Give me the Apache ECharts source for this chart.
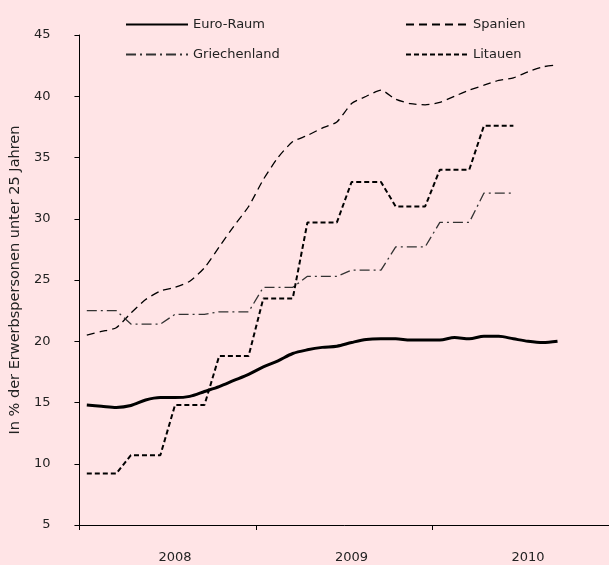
<!DOCTYPE html>
<html>
<head>
<meta charset="utf-8">
<script src="https://cdn.jsdelivr.net/npm/echarts@6/dist/echarts.min.js"></script>
<style>
  html, body { margin: 0; padding: 0; background: #ffe4e6; }
  #chart { width: 609px; height: 565px; }
</style>
</head>
<body>
<div id="chart"></div>
<script>
// Monate Jan 2008 - Dez 2010
const months = [
  "2008-01", "2008-02", "2008-03", "2008-04", "2008-05", "2008-06",
  "2008-07", "2008-08", "2008-09", "2008-10", "2008-11", "2008-12",
  "2009-01", "2009-02", "2009-03", "2009-04", "2009-05", "2009-06",
  "2009-07", "2009-08", "2009-09", "2009-10", "2009-11", "2009-12",
  "2010-01", "2010-02", "2010-03", "2010-04", "2010-05", "2010-06",
  "2010-07", "2010-08", "2010-09", "2010-10", "2010-11", "2010-12",
];
const yearLabels = ["2008", "2009", "2010"];

// Jugendarbeitslosenquote in %
const euroRaum = [
  14.8, 14.7, 14.6, 14.75, 15.2, 15.4, 15.4, 15.5, 15.9, 16.3, 16.8, 17.3,
  17.9, 18.4, 19.0, 19.3, 19.5, 19.6, 19.9, 20.15, 20.2, 20.2, 20.1, 20.1,
  20.1, 20.3, 20.2, 20.4, 20.4, 20.2, 20.0, 19.9, 20.0, null, null, null,
];
const spanien = [
  20.5, 20.8, 21.1, 22.3, 23.4, 24.1, 24.4, 24.9, 26.0, 27.7, 29.4, 31.0,
  33.2, 35.0, 36.3, 36.8, 37.4, 37.9, 39.4, 40.0, 40.5, 39.75, 39.4, 39.3,
  39.5, 40.0, 40.5, 40.9, 41.3, 41.5, 42.0, 42.4, 42.55, null, null, null,
];
const griechenland = [
  22.5, 22.5, 22.5, 21.4, 21.4, 21.4, 22.2, 22.2, 22.2, 22.4, 22.4, 22.4,
  24.4, 24.4, 24.4, 25.3, 25.3, 25.3, 25.8, 25.8, 25.8, 27.7, 27.7, 27.7,
  29.7, 29.7, 29.7, 32.1, 32.1, 32.1, null, null, null, null, null, null,
];
const litauen = [
  9.2, 9.2, 9.2, 10.7, 10.7, 10.7, 14.8, 14.8, 14.8, 18.8, 18.8, 18.8,
  23.5, 23.5, 23.5, 29.7, 29.7, 29.7, 33.0, 33.0, 33.0, 31.0, 31.0, 31.0,
  34.0, 34.0, 34.0, 37.6, 37.6, 37.6, null, null, null, null, null, null,
];

const font = "DejaVu Sans";
const txtColor = "#222";

const myChart = echarts.init(document.getElementById("chart"));

// eine Legende pro Eintrag, damit sie zweispaltig sitzen
function leg(name, left, top) {
  return {
    data: [name],
    left: left,
    top: top,
    itemWidth: 62,
    itemHeight: 10,
    itemGap: 6,
    itemStyle: { opacity: 0 }, // nur die Linie, kein Punkt
    textStyle: { fontFamily: font, fontSize: 13, color: txtColor },
  };
}

myChart.setOption({
  backgroundColor: "#ffe4e6",
  animation: false,
  legend: [
    leg("Euro-Raum", 120, 13),
    leg("Spanien", 400, 13),
    leg("Griechenland", 120, 43),
    leg("Litauen", 400, 43),
  ],
  grid: { left: 78, right: 0, top: 35, bottom: 40 },
  xAxis: {
    type: "category",
    data: months,
    boundaryGap: true,
    axisLine: { lineStyle: { color: "#000", width: 1 } },
    axisTick: {
      show: true,
      length: 5,
      interval: 11,
      lineStyle: { color: "#000" },
    },
    axisLabel: {
      interval: (i) => i % 12 === 6,
      formatter: (v, i) => yearLabels[Math.floor(i / 12)],
      margin: 26,
      fontFamily: font,
      fontSize: 13,
      color: txtColor,
    },
  },
  yAxis: {
    type: "value",
    min: 5,
    max: 45,
    interval: 5,
    name: "In % der Erwerbspersonen unter 25 Jahren",
    nameLocation: "middle",
    nameGap: 40,
    nameTextStyle: { fontFamily: font, fontSize: 14.5, color: txtColor },
    splitLine: { show: false },
    axisLine: { show: true, lineStyle: { color: "#000", width: 1 } },
    axisTick: { show: true, length: 5, lineStyle: { color: "#000" } },
    axisLabel: { margin: 29, fontFamily: font, fontSize: 13, color: txtColor },
  },
  series: [
    {
      name: "Euro-Raum",
      type: "line",
      data: euroRaum,
      symbol: "none",
      smooth: 0.3,
      lineStyle: { color: "#000", width: 3 },
      itemStyle: { color: "#000" },
    },
    {
      name: "Spanien",
      type: "line",
      data: spanien,
      symbol: "none",
      smooth: 0.2,
      lineStyle: { color: "#000", width: 1.3, type: [8, 5] },
      itemStyle: { color: "#000" },
    },
    {
      name: "Griechenland",
      type: "line",
      data: griechenland,
      symbol: "none",
      lineStyle: { color: "#333", width: 1.3, type: [10, 4, 2, 4] },
      itemStyle: { color: "#333" },
    },
    {
      name: "Litauen",
      type: "line",
      data: litauen,
      symbol: "none",
      lineStyle: { color: "#000", width: 2, type: [5, 3] },
      itemStyle: { color: "#000" },
    },
  ],
});
</script>
</body>
</html>
